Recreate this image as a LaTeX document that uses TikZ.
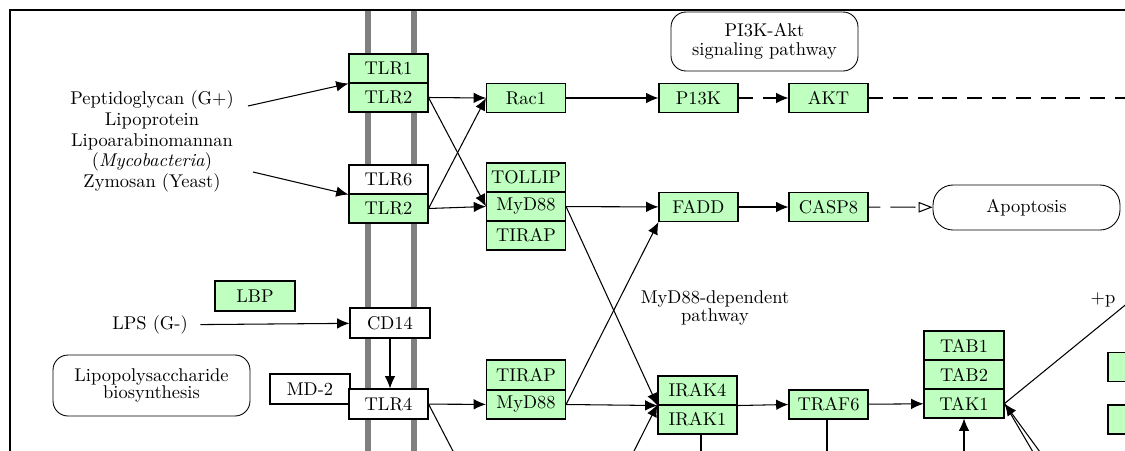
\documentclass[tikz,border=0pt]{standalone}
\usepackage{xcolor}
\usepackage{tikz}
\usetikzlibrary{arrows.meta, calc}
\definecolor{genegreen}{RGB}{191,255,191}
\definecolor{membranegray}{RGB}{128,128,128}
\tikzset{
    >={Latex[length=7pt,width=6pt]},
    gene/.style={draw, fill=genegreen, line width=0.6pt, minimum width=1.58cm, minimum height=0.58cm, inner sep=0pt},
    ortholog/.style={gene, fill=white},
    pathway/.style={draw, rounded corners=0.3cm, line width=0.5pt, align=center, inner sep=0pt},
    membrane/.style={membranegray, line width=3.4pt},
    relation/.style={line width=0.6pt},
    indirect/.style={relation, dash pattern=on 8.5pt off 5.5pt},
    compound/.style={align=center, inner sep=0pt},
}

\begin{document}
\begin{tikzpicture}[x=0.02cm, y=-0.02cm, font=\fontsize{10.5}{12.6}\selectfont]
        \clip (0,0) rectangle (1125,450);
        \draw[line width=1.3pt] (10,500) -- (10,10) -- (1200,10);
        \foreach \x in {368,414} \draw[membrane] (\x,11) -- (\x,460);
        \node[gene] (TLR1) at (388.5,68.5) {TLR1};
        \node[gene] (TLR2a) at (388.5,97.5) {TLR2};
        \node[ortholog] (TLR6) at (388.5,179.5) {TLR6};
        \node[gene] (TLR2b) at (388.5,208.5) {TLR2};
        \node[gene] (Rac1) at (526,98) {Rac1};
        \node[gene] (P13K) at (698.5,98) {P13K};
        \node[gene] (AKT) at (828.5,98) {AKT};
        \node[gene] (TOLLIP) at (526,177.5) {TOLLIP};
        \node[gene] (MyD88a) at (526,206.5) {MyD88};
        \node[gene] (TIRAPa) at (526,235.5) {TIRAP};
        \node[gene] (FADD) at (698.5,207) {FADD};
        \node[gene] (CASP8) at (828.5,207) {CASP8};
        \node[gene, minimum width=1.6cm, minimum height=0.6cm] (LBP) at (255,296) {LBP};
        \node[ortholog, minimum width=1.6cm, minimum height=0.6cm] (CD14) at (390,323) {CD14};
        \node[ortholog, minimum width=1.6cm, minimum height=0.6cm] (MD2) at (310,389) {MD-2};
        \node[ortholog, minimum height=0.6cm] (TLR4) at (388.5,404) {TLR4};
        \node[gene, minimum height=0.6cm] (TIRAPb) at (526,375) {TIRAP};
        \node[gene] (MyD88b) at (526,404.5) {MyD88};
        \node[gene] (IRAK4) at (697.5,390.5) {IRAK4};
        \node[gene] (IRAK1) at (697.5,419.5) {IRAK1};
        \node[gene] (TRAF6) at (828.5,404.5) {TRAF6};
        \node[gene, minimum width=1.6cm] (TAB1) at (964,345.5) {TAB1};
        \node[gene, minimum width=1.6cm] (TAB2) at (964,374.5) {TAB2};
        \node[gene, minimum width=1.6cm] (TAK1) at (964,403.5) {TAK1};
        \node[gene] (rightA) at (1147.5,367) {};
        \node[gene] (rightB) at (1147.5,419.5) {};
        \node[pathway, minimum width=3.74cm, minimum height=1.18cm] (PI3KAkt) at (764.5,41.5) {PI3K-Akt\\[-1.5pt]signaling pathway};
        \node[pathway, rounded corners=0.4cm, minimum width=3.74cm, minimum height=0.9cm] (Apoptosis) at (1026.5,207.5) {Apoptosis};
        \node[pathway, minimum width=3.94cm, minimum height=1.22cm] (LPSbio) at (151.5,385.5) {Lipopolysaccharide\\[-2.4pt]biosynthesis};
        \node[compound] (PGN) at (152,141.5) {Peptidoglycan (G+)\\[-0.8pt]Lipoprotein\\[-0.8pt]Lipoarabinomannan\\[-0.8pt](\textit{Mycobacteria})\\[-0.8pt]Zymosan (Yeast)};
        \node[compound, inner xsep=7pt] (LPS) at (150,325) {LPS (G-)};
        \node[compound] (MyD88path) at (715,308) {MyD88-dependent\\[-2.4pt]pathway};
        \node[compound] (plusp) at (1103,300) {+p};
        \coordinate (pgnA) at (248,106);
        \coordinate (pgnB) at (253,172);
        \coordinate (aktout) at (1130,98);
        \coordinate (tlr4out) at (455,455);
        \coordinate (irakin) at (632,455);
        \coordinate (irak1out) at (701,460);
        \coordinate (traf6out) at (827,460);
        \coordinate (takin) at (964,460);
        \coordinate (takout) at (1140,293);
        \coordinate (takinA) at (1040,452);
        \coordinate (takinB) at (1033,452);
        \draw[->, relation] (pgnA) -- (TLR1.south west);
        \draw[->, relation] (pgnB) -- (TLR6.south west);
        \foreach \n in {TLR2a,TLR2b} {
            \draw[->, relation] (\n.east) -- (Rac1.west);
            \draw[->, relation] (\n.east) -- (MyD88a.west);
        };
        \draw[->, relation] (Rac1) -- (P13K);
        \draw[->, indirect] (P13K) -- (AKT);
        \draw[indirect] (AKT.east) -- (aktout);
        \draw[->, relation] (MyD88a) -- (FADD);
        \draw[->, relation] (MyD88a.east) -- (IRAK4.south west);
        \draw[->, relation] (MyD88b.east) -- (FADD.south west);
        \draw[->, relation] (MyD88b.east) -- (IRAK4.south west);
        \draw[->, relation] (FADD) -- (CASP8);
        \draw[-{Triangle[open,length=8pt,width=6pt]}, relation, dash pattern=on 6.8pt off 5.7pt on 14.2pt off 5.7pt] (CASP8) -- (Apoptosis);
        \draw[->, relation] (LPS) -- (CD14);
        \draw[->, relation] (CD14.south) -- (CD14.south |- TLR4.north);
        \draw[->, relation] (TLR4) -- (MyD88b);
        \draw[relation] (TLR4.east) -- (tlr4out);
        \draw[->, relation] (irakin) -- (IRAK1.north west);
        \draw[relation] (IRAK1.south -| irak1out) -- (irak1out);
        \draw[->, relation] (IRAK4.south east) -- (TRAF6.west);
        \draw[relation] (TRAF6.south -| traf6out) -- (traf6out);
        \draw[->, relation] (TRAF6) -- (TAK1);
        \draw[->, relation] (takin) -- (TAK1.south);
        \draw[relation] (TAK1.east) -- (takout);
        \draw[->, relation] (takinA) -- (TAK1.east);
        \draw[relation] (takinB) -- (TAK1.east);
\end{tikzpicture}
\end{document}
